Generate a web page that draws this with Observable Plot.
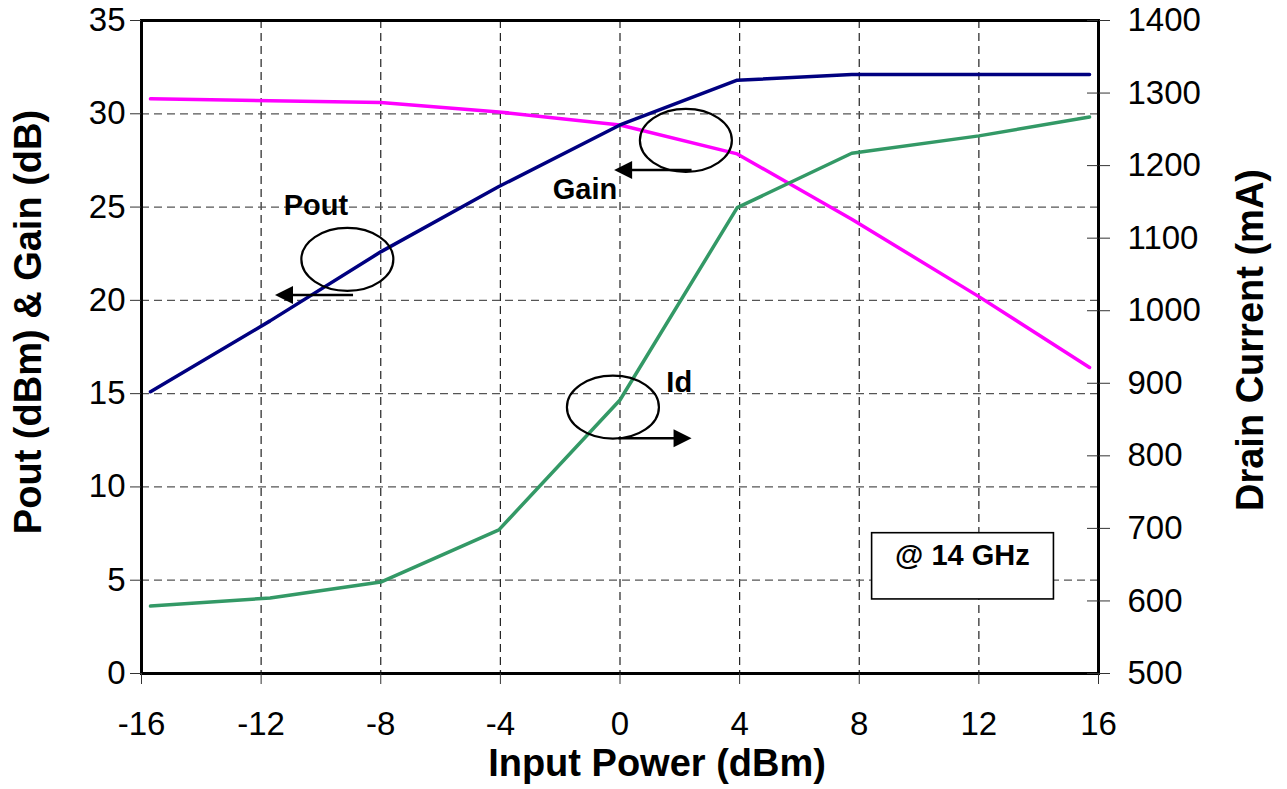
<!DOCTYPE html>
<html>
<head>
<meta charset="utf-8">
<script src="https://cdn.jsdelivr.net/npm/d3@7"></script>
<script src="https://cdn.jsdelivr.net/npm/@observablehq/plot@0.6"></script>
<style>
  html, body { margin: 0; padding: 0; background: #fff; }
  #chart { width: 1287px; height: 789px; }
</style>
</head>
<body>
<div id="chart"></div>
<script>
// ---- data ----
const inputPower   = [-15.7, -11.7, -8.0, -4.05, 0.0, 3.92, 7.75, 12.0, 15.7];   // dBm
const poutDbm      = [15.1, 18.9, 22.6, 26.1, 29.4, 31.8, 32.1, 32.1, 32.1];      // dBm
const gainDb       = [30.8, 30.7, 30.6, 30.1, 29.4, 27.85, 24.35, 20.2, 16.4];    // dB
const drainCurrent = [593, 604, 626, 698, 877, 1142, 1217, 1241, 1267];           // mA

const xTicks     = [-16, -12, -8, -4, 0, 4, 8, 12, 16];
const leftTicks  = [0, 5, 10, 15, 20, 25, 30, 35];
const rightTicks = [500, 600, 700, 800, 900, 1000, 1100, 1200, 1300, 1400];

const xLabel      = "Input Power (dBm)";
const yLeftLabel  = "Pout (dBm) & Gain (dB)";
const yRightLabel = "Drain Current (mA)";

// annotation labels
const seriesLabels  = ["Pout", "Gain", "Id"];
const labelX        = [-10.17, -1.17, 1.98];
const labelY        = [24.55, 25.44, 15.08];
const ellipseX      = [-9.10, 2.22, -0.22];
const ellipseY      = [22.17, 28.55, 14.25];
const arrowFromX    = [-8.91, 2.41, -0.04];
const arrowToX      = [-11.52, -0.18, 2.41];
const arrowY        = [20.26, 26.96, 12.58];
const noteText      = ["@ 14 GHz"];

// ---- right axis mapping (mA -> left axis units) ----
const rMin = 500, rMax = 1400, lMax = 35;
const toLeft = v => (v - rMin) / (rMax - rMin) * lMax;
const fromLeft = v => rMin + v / lMax * (rMax - rMin);

const table = inputPower.map((p, i) => ({
  p, pout: poutDbm[i], gain: gainDb[i], id: toLeft(drainCurrent[i])
}));

const anno = seriesLabels.map((t, i) => ({
  t, lx: labelX[i], ly: labelY[i], ex: ellipseX[i], ey: ellipseY[i],
  ax1: arrowFromX[i], ax2: arrowToX[i], ay: arrowY[i]
}));

const FONT = "'Liberation Sans', Arial, Helvetica, sans-serif";

// custom mark: ellipses + filled arrowheads
function annotationMark(index, scales) {
  const x = scales.x, y = scales.y;
  const g = d3.create("svg:g");
  for (const a of anno) {
    g.append("ellipse")
      .attr("cx", x(a.ex)).attr("cy", y(a.ey))
      .attr("rx", 46).attr("ry", 31.5)
      .attr("fill", "none").attr("stroke", "black").attr("stroke-width", 2.2);
    const x1 = x(a.ax1), x2 = x(a.ax2), yy = y(a.ay);
    const dir = Math.sign(x2 - x1);
    const head = 18, half = 9;
    g.append("line")
      .attr("x1", x1).attr("y1", yy).attr("x2", x2 - dir * head * 0.8).attr("y2", yy)
      .attr("stroke", "black").attr("stroke-width", 2.5);
    g.append("path")
      .attr("d", `M${x2},${yy}L${x2 - dir * head},${yy - half}L${x2 - dir * head},${yy + half}Z`)
      .attr("fill", "black");
  }
  return g.node();
}

const chart = Plot.plot({
  width: 1287,
  height: 789,
  marginLeft: 141,
  marginRight: 189,
  marginTop: 20,
  marginBottom: 116,
  style: { fontFamily: FONT, background: "#fff", color: "#000" },
  x: { domain: [-16, 16] },
  y: { domain: [0, 35] },
  marks: [
    // gridlines
    Plot.gridX(xTicks.slice(1, -1), { stroke: "#222", strokeOpacity: 1, strokeWidth: 1.2, strokeDasharray: "8,5" }),
    Plot.gridY(leftTicks.slice(1, -1), { stroke: "#555", strokeOpacity: 1, strokeWidth: 1.2, strokeDasharray: "8,5" }),
    // series
    Plot.line(table, { x: "p", y: "gain", stroke: "#FF00FF", strokeWidth: 3.5 }),
    Plot.line(table, { x: "p", y: "pout", stroke: "#000080", strokeWidth: 3.5 }),
    Plot.line(table, { x: "p", y: "id", stroke: "#339966", strokeWidth: 3.5 }),
    // frame
    Plot.frame({ stroke: "black", strokeWidth: 3 }),
    // axes
    Plot.axisX(xTicks, { tickSize: 11, tickPadding: 27, fontSize: 33, label: null, stroke: "#333", tickFormat: d => String(d) }),
    Plot.axisY(leftTicks, { anchor: "left", tickSize: 11, tickPadding: 5, fontSize: 33, label: null, stroke: "#333", tickFormat: d => String(d) }),
    Plot.axisY(rightTicks.map(toLeft), {
      anchor: "right", tickSize: 11, tickPadding: 18, fontSize: 33, label: null, stroke: "#333",
      tickFormat: v => String(Math.round(fromLeft(v)))
    }),
    Plot.ruleY(rightTicks.map(toLeft), { insetLeft: 946, stroke: "#333", strokeWidth: 1 }),
    // axis titles
    Plot.text([xLabel], { text: d => d, frameAnchor: "bottom", textAnchor: "middle", lineAnchor: "bottom", dx: 37, dy: 102, fontSize: 38, fontWeight: "bold", fill: "black" }),
    Plot.text([yLeftLabel], { text: d => d, frameAnchor: "left", textAnchor: "middle", lineAnchor: "bottom", rotate: -90, dx: -101, dy: -25, fontSize: 38, fontWeight: "bold", fill: "black" }),
    Plot.text([yRightLabel], { text: d => d, frameAnchor: "right", textAnchor: "middle", lineAnchor: "bottom", rotate: -90, dx: 164, dy: -7, fontSize: 38, fontWeight: "bold", fill: "black" }),
    // annotations
    annotationMark,
    Plot.text(anno, { x: "lx", y: "ly", text: "t", lineAnchor: "bottom", fontSize: 29, fontWeight: "bold", fill: "black" }),
    Plot.rect([{ x1: 8.43, x2: 14.51, y1: 3.97, y2: 7.52 }], { x1: "x1", x2: "x2", y1: "y1", y2: "y2", fill: "white", stroke: "black", strokeWidth: 1.6 }),
    Plot.text(noteText, { x: 11.45, y: 5.79, text: d => d, lineAnchor: "bottom", fontSize: 29, fontWeight: "bold", fill: "black" })
  ]
});

document.getElementById("chart").appendChild(chart);
</script>
</body>
</html>
